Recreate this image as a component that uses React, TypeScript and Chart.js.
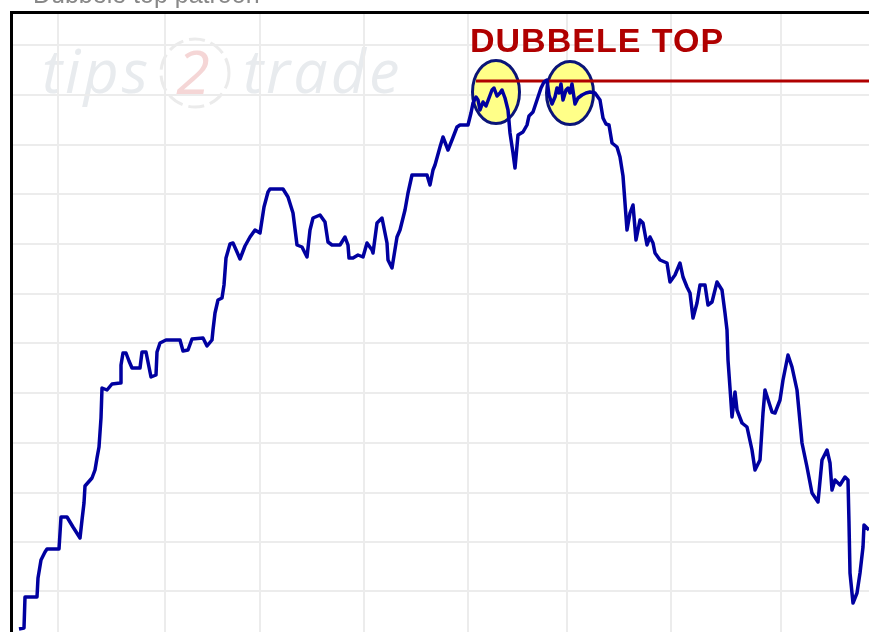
import React, { useEffect, useRef } from "react";
import { Chart, registerables } from "chart.js";

Chart.register(...registerables);

// Trading days (x) and price level (y)
const days = [
  6, 11, 12, 24, 25, 28, 32, 34, 46, 48, 54, 60, 67, 69, 71, 72, 79, 82, 84, 86,
  88, 89, 94, 99, 107, 108, 110, 113, 116, 119, 127, 129, 133, 136, 138, 143, 144, 147, 153, 167,
  170, 175, 179, 190, 194, 199, 200, 202, 205, 209, 211, 213, 217, 220, 224, 227, 232, 237, 242, 247,
  249, 251, 255, 257, 270, 275, 280, 284, 289, 294, 297, 300, 307, 312, 315, 319, 327, 332, 335, 336,
  340, 345, 350, 354, 359, 360, 364, 369, 374, 375, 379, 384, 387, 392, 395, 399, 414, 417, 420, 422,
  427, 430, 435, 439, 444, 447, 455, 458, 460, 463, 465, 467, 470, 473, 476, 479, 481, 484, 487, 489,
  492, 495, 497, 500, 502, 505, 510, 514, 516, 520, 524, 528, 531, 534, 536, 539, 542, 544, 546, 548,
  550, 553, 555, 557, 559, 562, 565, 569, 573, 577, 582, 587, 590, 593, 596, 599, 604, 607, 610, 612,
  614, 617, 620, 623, 627, 630, 634, 637, 640, 642, 647, 654, 657, 662, 667, 670, 674, 677, 680, 684,
  687, 692, 695, 699, 704, 709, 712, 714, 715, 717, 719, 722, 724, 729, 734, 739, 742, 747, 750, 752,
  759, 762, 767, 770, 775, 779, 784, 789, 794, 799, 805, 809, 814, 817, 819, 822, 827, 832, 835, 836,
  837, 840, 844, 847, 850, 851, 856,
];
const prices = [
  3, 4, 35, 35, 54, 72, 80, 83, 83, 115, 115, 105, 94, 112, 129, 146, 154, 162, 174, 185,
  214, 244, 242, 248, 249, 267, 279, 279, 271, 264, 264, 280, 280, 265, 255, 257, 280, 289, 292, 292,
  281, 282, 293, 294, 286, 292, 302, 319, 332, 334, 347, 374, 388, 389, 380, 373, 386, 395, 402, 399,
  412, 425, 440, 443, 443, 435, 419, 387, 385, 375, 402, 414, 417, 410, 390, 387, 387, 395, 387, 374,
  374, 377, 375, 389, 382, 379, 409, 414, 389, 372, 364, 395, 402, 422, 439, 457, 457, 447, 462, 467,
  485, 495, 482, 492, 505, 507, 507, 519, 529, 535, 532, 522, 530, 526, 534, 542, 544, 536, 539, 542,
  534, 522, 499, 479, 464, 497, 500, 507, 516, 520, 532, 544, 550, 552, 537, 528, 535, 544, 539, 548,
  532, 542, 544, 539, 548, 528, 534, 537, 539, 540, 539, 532, 514, 508, 507, 489, 485, 475, 456, 429,
  402, 419, 427, 392, 412, 409, 387, 395, 389, 379, 372, 369, 350, 357, 369, 355, 345, 339, 314, 329,
  347, 347, 327, 330, 350, 342, 319, 302, 272, 244, 215, 240, 222, 209, 205, 182, 162, 172, 219, 242,
  220, 219, 232, 252, 277, 265, 242, 189, 165, 139, 130, 172, 182, 169, 142, 152, 147, 155, 152, 109,
  59, 29, 39, 59, 85, 107, 102,
];

// Resistance line of the double top
const resistanceDays = [463, 856];
const resistanceLevel = 551;

// The two tops that are circled
const topDays = [483, 557];
const topLevels = [540, 539];

// Grid positions (month boundaries, price steps)
const monthGrid = [45, 152, 247, 351, 455, 554, 658, 768];
const priceGrid = [41, 90, 139, 189, 239, 289, 338, 388, 438, 487, 537, 587];

const titleText = "Dubbele top patroon";
const labelText = "DUBBELE TOP";
const labelDay = 457;
const labelLevel = 580;

export default function App() {
  const ref = useRef<HTMLCanvasElement>(null);

  useEffect(() => {
    const canvas = ref.current;
    if (!canvas) return;

    const decor = {
      id: "decor",
      beforeDraw(chart: any) {
        const ctx = chart.ctx;
        ctx.save();
        ctx.fillStyle = "#ffffff";
        ctx.fillRect(0, 0, chart.width, chart.height);
        // watermark
        ctx.font = 'italic 61px "Open Sans"';
        ctx.textBaseline = "alphabetic";
        ctx.textAlign = "left";
        (ctx as any).letterSpacing = "3px";
        ctx.fillStyle = "#e8ebee";
        ctx.fillText("tips", 42, 93);
        ctx.fillText("trade", 243, 93);
        (ctx as any).letterSpacing = "0px";
        ctx.setLineDash([16, 6]);
        ctx.strokeStyle = "#ebebeb";
        ctx.lineWidth = 3;
        ctx.beginPath();
        ctx.arc(195, 73, 34, 0, Math.PI * 2);
        ctx.stroke();
        ctx.setLineDash([]);
        ctx.fillStyle = "#f5d6d6";
        ctx.textAlign = "center";
        ctx.fillText("2", 193, 94);
        ctx.restore();
      },
      beforeDatasetsDraw(chart: any) {
        const ctx = chart.ctx;
        const xs = chart.scales.x;
        const ys = chart.scales.y;
        ctx.save();
        topDays.forEach((d, i) => {
          const cx = xs.getPixelForValue(d);
          const cy = ys.getPixelForValue(topLevels[i]);
          ctx.beginPath();
          ctx.ellipse(cx, cy, 23.5, 31.5, 0, 0, Math.PI * 2);
          ctx.fillStyle = "#ffff88";
          ctx.fill();
          ctx.lineWidth = 3;
          ctx.strokeStyle = "#0a1478";
          ctx.stroke();
        });
        ctx.restore();
      },
      afterDraw(chart: any) {
        const ctx = chart.ctx;
        const xs = chart.scales.x;
        const ys = chart.scales.y;
        ctx.save();
        // label
        ctx.font = 'bold 34px "Liberation Sans"';
        (ctx as any).letterSpacing = "1px";
        ctx.fillStyle = "#b00000";
        ctx.textAlign = "left";
        ctx.textBaseline = "alphabetic";
        ctx.fillText(labelText, xs.getPixelForValue(labelDay), ys.getPixelForValue(labelLevel));
        (ctx as any).letterSpacing = "0px";
        // frame
        ctx.strokeStyle = "#000000";
        ctx.lineWidth = 3;
        ctx.strokeRect(11.5, 12.5, 1000, 1000);
        // cut title above the frame
        ctx.font = '25px "Liberation Sans"';
        ctx.fillStyle = "#888888";
        ctx.fillText(titleText, 33, 3);
        ctx.restore();
      },
    };

    const chart = new Chart(canvas, {
      type: "line",
      data: {
        datasets: [
          {
            label: "Koers",
            data: days.map((d, i) => ({ x: d, y: prices[i] })),
            borderColor: "#0000a0",
            borderWidth: 3.5,
            pointRadius: 0,
            tension: 0,
            fill: false,
            borderJoinStyle: "round",
          },
          {
            label: "Weerstand",
            data: resistanceDays.map((d) => ({ x: d, y: resistanceLevel })),
            borderColor: "#b00000",
            borderWidth: 3,
            pointRadius: 0,
            fill: false,
          },
        ],
      },
      options: {
        animation: false,
        responsive: false,
        maintainAspectRatio: false,
        layout: { padding: { left: 13, top: 13, right: 0, bottom: 0 } },
        plugins: {
          legend: { display: false },
          tooltip: { enabled: false },
          title: { display: false },
        },
        scales: {
          x: {
            type: "linear",
            min: 0,
            max: 856,
            border: { display: false },
            grid: { color: "#ececec", lineWidth: 2, drawTicks: false },
            ticks: { display: false },
            afterBuildTicks: (s: any) => {
              s.ticks = monthGrid.map((v) => ({ value: v }));
            },
          },
          y: {
            type: "linear",
            min: 0,
            max: 619,
            border: { display: false },
            grid: { color: "#ececec", lineWidth: 2, drawTicks: false },
            ticks: { display: false },
            afterBuildTicks: (s: any) => {
              s.ticks = priceGrid.map((v) => ({ value: v }));
            },
          },
        },
      },
      plugins: [decor],
    } as any);

    return () => chart.destroy();
  }, []);

  return (
    <div style={{ position: "absolute", left: 0, top: 0, width: 869, height: 632, background: "#fff" }}>
      <canvas ref={ref} width={869} height={632} style={{ display: "block", width: 869, height: 632 }} />
    </div>
  );
}
